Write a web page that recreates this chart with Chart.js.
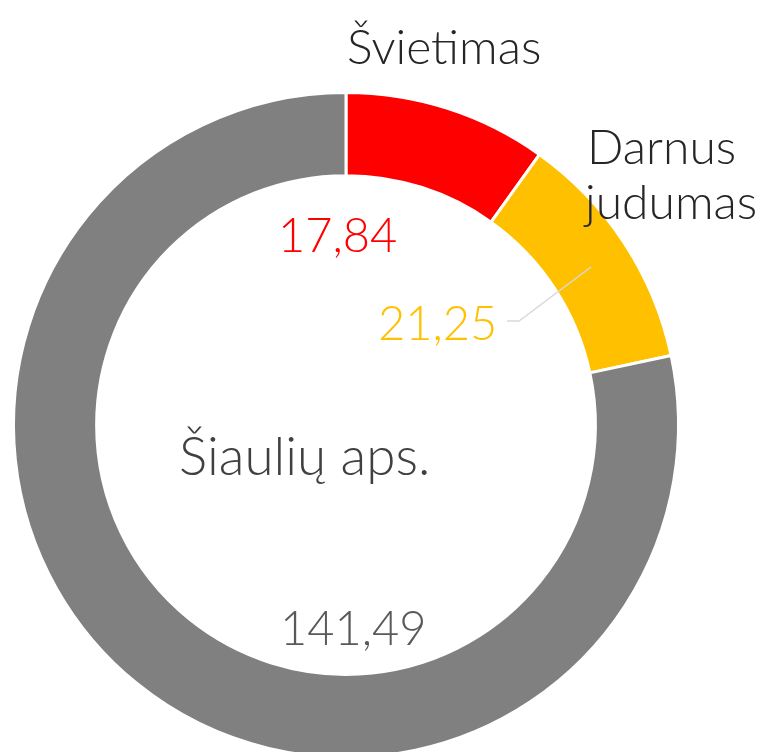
<!DOCTYPE html>
<html>
<head>
<meta charset="utf-8">
<script src="https://cdn.jsdelivr.net/npm/chart.js@4/dist/chart.umd.min.js"></script>
<style>
  html, body { margin:0; padding:0; background:#fff; overflow:hidden; }
  #wrap { position:absolute; left:0; top:0; width:764px; height:800px; }
</style>
</head>
<body>
<div id="wrap"><canvas id="donut"></canvas></div>
<script>
// data
const categories = ['Švietimas', 'Darnus judumas', 'Šiaulių aps.'];
const values = [17.84, 21.25, 141.49];
const colors = ['#ff0000', '#ffc000', '#808080'];

const fmt = v => v.toFixed(2).replace('.', ',');

// label placement (left x, baseline y) per slice
const labelPos = [
  { name: [[347, 64]], nameSize: 48, value: [278, 252], nameColor: '#262626', valueColor: '#ff0000' },
  { name: [[587, 164], [585, 219]], nameSize: 48, value: [378, 340], nameColor: '#262626', valueColor: '#ffc000',
    leader: [[507, 321], [519, 321], [591, 267]] },
  { name: [[179, 475]], nameSize: 53, value: [280, 645], nameColor: '#404040', valueColor: '#595959' }
];

const labelsPlugin = {
  id: 'sliceLabels',
  afterDatasetsDraw(chart) {
    const ctx = chart.ctx;
    ctx.save();
    ctx.textAlign = 'left';
    ctx.textBaseline = 'alphabetic';
    categories.forEach((c, i) => {
      const p = labelPos[i];
      const lines = p.name.length > 1 ? c.split(' ') : [c];
      ctx.font = `300 ${p.nameSize}px Lato, "DejaVu Sans", sans-serif`;
      ctx.fillStyle = p.nameColor;
      lines.forEach((ln, j) => ctx.fillText(ln, p.name[j][0], p.name[j][1]));
      ctx.font = '300 47px Lato, "DejaVu Sans", sans-serif';
      ctx.fillStyle = p.valueColor;
      ctx.fillText(fmt(values[i]), p.value[0], p.value[1]);
      if (p.leader) {
        ctx.strokeStyle = '#d9d9d9';
        ctx.lineWidth = 1.5;
        ctx.beginPath();
        p.leader.forEach((pt, k) => k ? ctx.lineTo(pt[0], pt[1]) : ctx.moveTo(pt[0], pt[1]));
        ctx.stroke();
      }
    });
    ctx.restore();
  }
};

new Chart(document.getElementById('donut'), {
  type: 'doughnut',
  data: {
    labels: categories,
    datasets: [{
      data: values,
      backgroundColor: colors,
      borderColor: '#ffffff',
      borderWidth: 3
    }]
  },
  options: {
    responsive: true,
    maintainAspectRatio: false,
    animation: false,
    cutout: '75%',
    layout: { padding: { left: 12, right: 84, top: 91, bottom: 41 } },
    plugins: { legend: { display: false }, tooltip: { enabled: false } }
  },
  plugins: [labelsPlugin]
});
</script>
</body>
</html>
